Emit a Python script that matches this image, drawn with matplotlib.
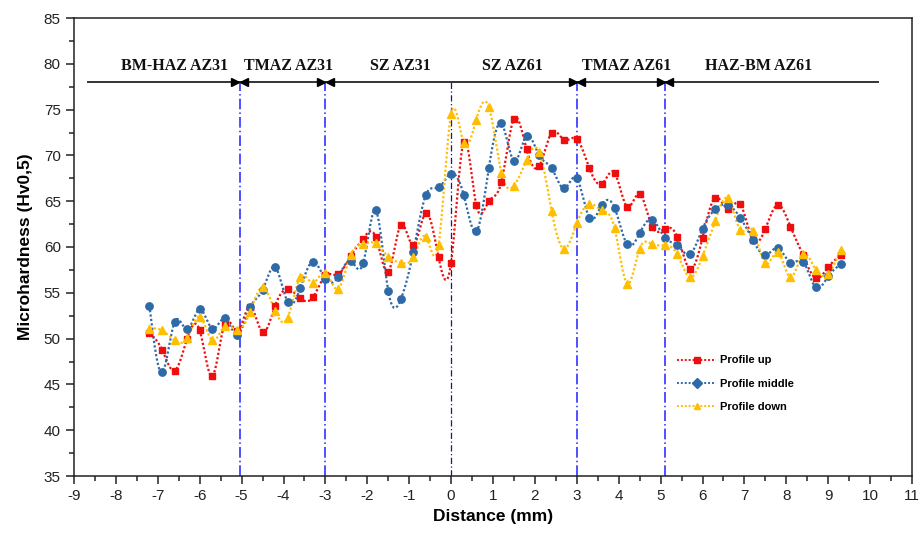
import numpy as np
import matplotlib
matplotlib.use("Agg")
import matplotlib.pyplot as plt
from matplotlib.lines import Line2D
from matplotlib.ticker import MultipleLocator

# ---------------- data ----------------
distance = [-7.2, -6.9, -6.6, -6.3, -6.0, -5.7, -5.4, -5.1, -4.8, -4.5, -4.2, -3.9, -3.6, -3.3,
            -3.0, -2.7, -2.4, -2.1, -1.8, -1.5, -1.2, -0.9, -0.6, -0.3, 0.0, 0.3, 0.6, 0.9,
            1.2, 1.5, 1.8, 2.1, 2.4, 2.7, 3.0, 3.3, 3.6, 3.9, 4.2, 4.5, 4.8, 5.1, 5.4, 5.7,
            6.0, 6.3, 6.6, 6.9, 7.2, 7.5, 7.8, 8.1, 8.4, 8.7, 9.0, 9.3]

profile_up = [50.6, 48.8, 46.5, 50.0, 50.9, 45.9, 51.7, 50.8, 53.5, 50.7, 53.6, 55.4, 54.4, 54.5,
              56.9, 57.0, 59.0, 60.9, 61.1, 57.3, 62.4, 60.2, 63.7, 58.9, 58.3, 71.5, 64.6, 65.0,
              67.1, 74.0, 70.7, 68.8, 72.5, 71.7, 71.8, 68.6, 66.9, 68.1, 64.4, 65.8, 62.2, 62.0,
              61.1, 57.6, 61.0, 65.4, 64.2, 64.7, 60.8, 62.0, 64.6, 62.2, 59.1, 56.6, 57.8, 59.1]

profile_middle = [53.6, 46.3, 51.8, 51.0, 53.2, 51.1, 52.2, 50.4, 53.4, 55.3, 57.8, 54.0, 55.5, 58.4,
                  56.5, 56.7, 58.5, 58.2, 64.0, 55.2, 54.3, 59.5, 65.7, 66.5, 68.0, 65.7, 61.7, 68.6,
                  73.5, 69.4, 72.1, 70.0, 68.6, 66.4, 67.5, 63.2, 64.6, 64.3, 60.3, 61.5, 63.0, 61.0,
                  60.2, 59.2, 62.0, 64.1, 64.6, 63.2, 60.8, 59.1, 59.9, 58.3, 58.4, 55.6, 56.8, 58.1]

profile_down = [51.1, 50.9, 49.8, 50.1, 52.4, 49.8, 51.4, 50.9, 52.9, 55.6, 53.0, 52.3, 56.7, 56.1,
                57.2, 55.4, 59.1, 60.3, 60.4, 58.9, 58.3, 58.9, 61.1, 60.2, 74.5, 71.4, 73.9, 75.3,
                68.1, 66.7, 69.5, 70.4, 63.9, 59.8, 62.6, 64.7, 64.0, 62.1, 56.0, 59.8, 60.3, 60.2,
                59.2, 56.7, 59.0, 62.8, 65.3, 61.9, 61.8, 58.2, 59.4, 56.7, 59.2, 57.5, 57.1, 59.7]

series_labels = ["Profile up", "Profile middle", "Profile down"]
zone_labels = ["BM-HAZ AZ31", "TMAZ AZ31", "SZ AZ31", "SZ AZ61", "TMAZ AZ61", "HAZ-BM AZ61"]
zone_label_x = [-6.6, -3.88, -1.22, 1.46, 4.18, 7.33]
zone_bounds = [-5.05, -3.0, 3.0, 5.1]
center_line = 0.0
arrow_line_y = 78.0
arrow_line_x = [-8.66, 10.2]


def natural_spline(x, y, n=30):
    x = np.asarray(x, float)
    y = np.asarray(y, float)
    m = len(x)
    h = np.diff(x)
    A = np.zeros((m, m))
    b = np.zeros(m)
    A[0, 0] = 1
    A[-1, -1] = 1
    for i in range(1, m - 1):
        A[i, i - 1] = h[i - 1]
        A[i, i] = 2 * (h[i - 1] + h[i])
        A[i, i + 1] = h[i]
        b[i] = 3 * ((y[i + 1] - y[i]) / h[i] - (y[i] - y[i - 1]) / h[i - 1])
    c = np.linalg.solve(A, b)
    xs, ys = [], []
    for i in range(m - 1):
        t = np.linspace(0, h[i], n, endpoint=False)
        bi = (y[i + 1] - y[i]) / h[i] - h[i] * (2 * c[i] + c[i + 1]) / 3
        di = (c[i + 1] - c[i]) / (3 * h[i])
        xs.append(x[i] + t)
        ys.append(y[i] + bi * t + c[i] * t ** 2 + di * t ** 3)
    xs.append([x[-1]])
    ys.append([y[-1]])
    return np.concatenate(xs), np.concatenate(ys)


plt.rcParams['font.family'] = ['Liberation Sans', 'DejaVu Sans']
plt.rcParams['axes.unicode_minus'] = False

fig = plt.figure(figsize=(9.2, 5.38), dpi=100)
ax = fig.add_axes([74 / 920, 1 - 476 / 538, 838 / 920, 458 / 538])

colors = ["#f00d0d", "#2e6aa8", "#ffbf00"]
markers = ["s", "o", "^"]
msizes = [4.8, 5.3, 5.8]
legend_markers = ["s", "D", "^"]
all_series = [profile_up, profile_middle, profile_down]

for vals, col, mk, ms in zip(all_series, colors, markers, msizes):
    sx, sy = natural_spline(distance, vals)
    ax.plot(sx, sy, linestyle=(0, (1, 1)), color=col, lw=1.6, zorder=3)
    ax.plot(distance, vals, linestyle='none', marker=mk, ms=ms, color=col, zorder=4)

# zone boundaries
for xb in zone_bounds:
    ax.plot([xb, xb], [35, arrow_line_y], color="#1f1fff", lw=1.1,
            linestyle=(0, (7, 2, 1, 2)), zorder=2)
ax.plot([center_line, center_line], [35, arrow_line_y], color="#1a1a7a", lw=0.9,
        linestyle=(0, (5, 2, 1, 2)), zorder=2)

# horizontal arrow line
ax.plot(arrow_line_x, [arrow_line_y, arrow_line_y], color="#333333", lw=1.4, zorder=2)
for xb in zone_bounds:
    ax.plot([xb - 0.1], [arrow_line_y], marker='>', color='black', ms=6, linestyle='none', zorder=5)
    ax.plot([xb + 0.1], [arrow_line_y], marker='<', color='black', ms=6, linestyle='none', zorder=5)

for lab, lx in zip(zone_labels, zone_label_x):
    ax.text(lx, 79.8, lab, ha='center', va='center', fontsize=11.5, fontweight='bold',
            family=['Liberation Serif', 'DejaVu Serif'], color='#111111')

ax.set_xlim(-9, 11)
ax.set_ylim(35, 85)
ax.xaxis.set_major_locator(MultipleLocator(1))
ax.xaxis.set_minor_locator(MultipleLocator(0.5))
ax.yaxis.set_major_locator(MultipleLocator(5))
ax.yaxis.set_minor_locator(MultipleLocator(2.5))
ax.tick_params(which='both', direction='out', top=False, right=False, width=1.1, color='#222222')
ax.tick_params(which='major', length=6, labelsize=11, labelcolor='#222222')
ax.tick_params(which='minor', length=3.5)
for sp in ax.spines.values():
    sp.set_linewidth(1.1)
    sp.set_color('#222222')

ax.set_xlabel("Distance (mm)", fontsize=12.5, fontweight='bold', labelpad=4)
ax.set_ylabel("Microhardness (Hv0,5)", fontsize=12.5, fontweight='bold', labelpad=8)

handles = [Line2D([0], [0], color=c, linestyle=(0, (1, 1)), lw=1.4, marker=m, ms=5)
           for c, m in zip(colors, legend_markers)]
ax.legend(handles, series_labels, loc='upper left', bbox_to_anchor=(0.708, 0.285), frameon=False,
          prop={'weight': 'bold', 'size': 8}, handlelength=3.5, labelspacing=1.2, handletextpad=0.3)

fig.savefig("out.png", dpi=100)
